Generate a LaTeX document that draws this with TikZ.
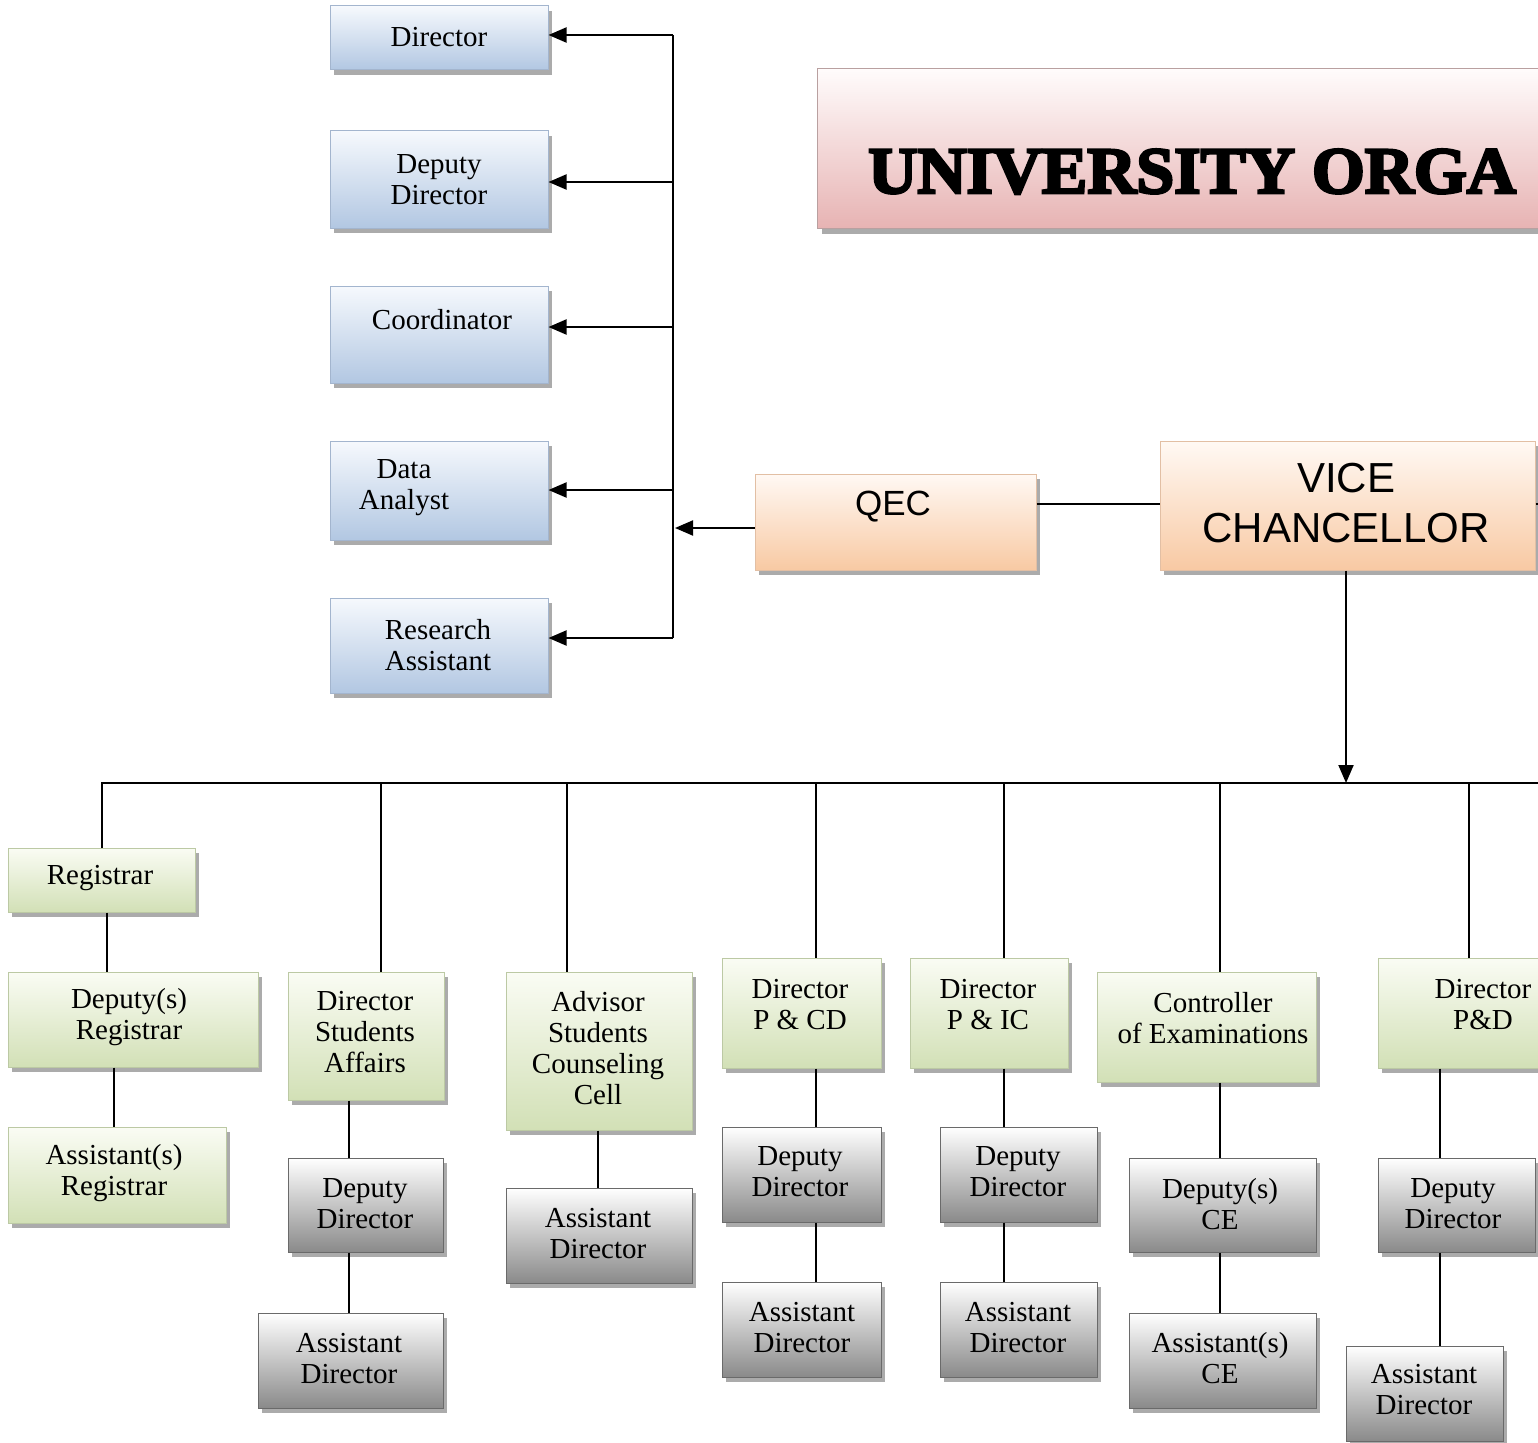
\documentclass[tikz,border=0pt]{standalone}
\usepackage{fontspec}
\setmainfont{Liberation Serif}
\newfontfamily\sansf{Liberation Sans}
\newfontfamily\titlefont{Liberation Serif}[BoldFeatures={FakeBold=4,FakeStretch=1.03}]
\usetikzlibrary{arrows.meta,shadows}
\definecolor{blueT}{HTML}{F6F9FD}
\definecolor{blueB}{HTML}{B2C7E2}
\definecolor{blueD}{HTML}{A3B5CE}
\definecolor{greenT}{HTML}{FAFCF4}
\definecolor{greenB}{HTML}{D2E0B6}
\definecolor{greenD}{HTML}{BCC9A4}
\definecolor{greyT}{HTML}{FFFFFF}
\definecolor{greyB}{HTML}{8A8A8A}
\definecolor{greyD}{HTML}{6A6A6A}
\definecolor{orT}{HTML}{FFF9F4}
\definecolor{orB}{HTML}{F8C9A3}
\definecolor{orD}{HTML}{E2BFA4}
\definecolor{pkT}{HTML}{FFFCFC}
\definecolor{pkB}{HTML}{E7B3B3}
\definecolor{pkD}{HTML}{B9A0A0}
\tikzset{
  base/.style={rectangle, inner sep=0pt, line width=1pt,
    drop shadow={shadow xshift=4pt, shadow yshift=-5pt, fill=black, opacity=0.33}},
  bluebox/.style={base, draw=blueD, top color=blueT, bottom color=blueB},
  greenbox/.style={base, draw=greenD, top color=greenT, bottom color=greenB},
  greybox/.style={base, draw=greyD, top color=greyT, bottom color=greyB},
  orbox/.style={base, draw=orD, top color=orT, bottom color=orB},
  pkbox/.style={base, draw=pkD, top color=pkT, bottom color=pkB},
  txt/.style={inner sep=0pt, align=center, font=\fontsize{29}{31}\selectfont},
  conn/.style={line width=2pt, draw=black},
  arr/.style={conn, -{Triangle[length=18pt,width=15pt]}},
}
\newcommand\obox[9]{%
  \node[#1, minimum width=#5pt, minimum height=#6pt] (#2) at (#3,#4) {};
  \node[txt] (#2t) at (#7,#8) {#9};}
\begin{document}
\begin{tikzpicture}[x=1pt,y=-1pt]
\useasboundingbox (0,0) rectangle (1538,1442);
\clip (0,0) rectangle (1538,1442);
\fill[white] (0,0) rectangle (1538,1442);

% title
\node[pkbox, minimum width=900pt, minimum height=160pt, anchor=north west] (title) at (817,68) {};
\node[anchor=base west, inner sep=0pt, font=\titlefont\bfseries\fontsize{66}{70}\selectfont] (titlet) at (868,193) {UNIVERSITY ORGA};

% blue column
\obox{bluebox}{b1}{439}{38}{218}{64}{439}{37}{Director}
\obox{bluebox}{b2}{439}{179.5}{218}{97}{439}{180}{Deputy\\Director}
\obox{bluebox}{b3}{439}{334.5}{218}{97}{442}{320}{Coordinator}
\obox{bluebox}{b4}{439}{490.5}{218}{99}{404}{488}{Data\\Analyst}
\obox{bluebox}{b5}{439}{645.5}{218}{95}{438}{645}{Research\\Assistant}

% QEC and VC
\node[orbox, minimum width=281pt, minimum height=96pt] (qec) at (895.5,522) {};
\node[inner sep=0pt, font=\sansf\fontsize{35}{40}\selectfont] (qect) at (893,507) {QEC};
\node[orbox, minimum width=375pt, minimum height=129pt] (vc) at (1347.5,505.5) {};
\node[inner sep=0pt, align=center, font=\sansf\fontsize{42}{50}\selectfont] (vct) at (1346,503) {VICE\\CHANCELLOR};

% left connectors
\coordinate (j1) at (673,35);
\coordinate (j2) at (673,182);
\coordinate (j3) at (673,327);
\coordinate (j4) at (673,490);
\coordinate (j5) at (673,638);
\draw[conn] (j1) -- (j5);
\draw[arr] (j1) -- (j1 -| b1.east);
\draw[arr] (j2) -- (j2 -| b2.east);
\draw[arr] (j3) -- (j3 -| b3.east);
\draw[arr] (j4) -- (j4 -| b4.east);
\draw[arr] (j5) -- (j5 -| b5.east);
\coordinate (qa) at (675,528);
\draw[arr] (qa -| qec.west) -- (qa);
\coordinate (qv) at (1100,504);
\draw[conn] (qv -| qec.east) -- (qv -| vc.west);
\draw[conn] (qv -| vc.east) -- ++(40,0);
\coordinate (busv) at (1346,783);
\draw[arr] (busv |- vc.south) -- (busv);

% green row
\obox{greenbox}{reg}{101.5}{880}{187}{64}{100}{878}{Registrar}
\obox{greenbox}{dreg}{133}{1019.5}{250}{95}{129}{1017}{Deputy(s)\\Registrar}
\obox{greenbox}{areg}{117}{1175}{218}{96}{114}{1173}{Assistant(s)\\Registrar}
\obox{greenbox}{dsa}{366}{1036}{156}{128}{365}{1032}{Director\\Students\\Affairs}
\obox{greenbox}{ascc}{599}{1051}{186}{158}{598}{1048}{Advisor\\Students\\Counseling\\Cell}
\obox{greenbox}{dpcd}{801.5}{1013}{159}{110}{800}{1005}{Director\\P \& CD}
\obox{greenbox}{dpic}{989}{1013}{158}{110}{988}{1005}{Director\\P \& IC}
\obox{greenbox}{coe}{1206.5}{1027}{219}{110}{1213}{1018}{Controller\\of Examinations}
\obox{greenbox}{dpd}{1483}{1013}{210}{110}{1483}{1005}{Director\\P\&D}

% grey boxes
\obox{greybox}{sadd}{365.5}{1205}{155}{94}{365}{1204}{Deputy\\Director}
\obox{greybox}{saad}{350.5}{1360.5}{185}{95}{349}{1359}{Assistant\\Director}
\obox{greybox}{asad}{599}{1235.5}{186}{95}{598}{1234}{Assistant\\Director}
\obox{greybox}{pcdd}{801.5}{1174.5}{159}{95}{800}{1172}{Deputy\\Director}
\obox{greybox}{pcad}{801.5}{1329.5}{159}{95}{802}{1328}{Assistant\\Director}
\obox{greybox}{picd}{1018.5}{1174.5}{157}{95}{1018}{1172}{Deputy\\Director}
\obox{greybox}{pica}{1018.5}{1329.5}{157}{95}{1018}{1328}{Assistant\\Director}
\obox{greybox}{ced}{1222.5}{1205}{187}{94}{1220}{1204}{Deputy(s)\\CE}
\obox{greybox}{cea}{1222.5}{1360.5}{187}{95}{1220}{1358}{Assistant(s)\\CE}
\obox{greybox}{pdd}{1456.5}{1205}{157}{94}{1453}{1204}{Deputy\\Director}
\obox{greybox}{pda}{1424.5}{1393.5}{157}{95}{1424}{1390}{Assistant\\Director}

% bus
\coordinate (busR) at (1560,783);
\draw[conn] (reg.north) -- (reg.north |- busR) -- (busR);
\coordinate (d2) at (381,783);
\coordinate (d3) at (567,783);
\coordinate (d4) at (816,783);
\coordinate (d5) at (1004,783);
\coordinate (d6) at (1220,783);
\coordinate (d7) at (1469,783);
\draw[conn] (d2) -- (d2 |- dsa.north);
\draw[conn] (d3) -- (d3 |- ascc.north);
\draw[conn] (d4) -- (d4 |- dpcd.north);
\draw[conn] (d5) -- (d5 |- dpic.north);
\draw[conn] (d6) -- (d6 |- coe.north);
\draw[conn] (d7) -- (d7 |- dpd.north);

% sub lines
\coordinate (x1) at (107,0);
\coordinate (x2) at (114,0);
\coordinate (x3) at (349,0);
\coordinate (x4) at (598,0);
\coordinate (x5) at (816,0);
\coordinate (x6) at (1004,0);
\coordinate (x7) at (1220,0);
\coordinate (x8) at (1440,0);
\draw[conn] (x1 |- reg.south) -- (x1 |- dreg.north);
\draw[conn] (x2 |- dreg.south) -- (x2 |- areg.north);
\draw[conn] (x3 |- dsa.south) -- (x3 |- sadd.north);
\draw[conn] (x3 |- sadd.south) -- (x3 |- saad.north);
\draw[conn] (x4 |- ascc.south) -- (x4 |- asad.north);
\draw[conn] (x5 |- dpcd.south) -- (x5 |- pcdd.north);
\draw[conn] (x5 |- pcdd.south) -- (x5 |- pcad.north);
\draw[conn] (x6 |- dpic.south) -- (x6 |- picd.north);
\draw[conn] (x6 |- picd.south) -- (x6 |- pica.north);
\draw[conn] (x7 |- coe.south) -- (x7 |- ced.north);
\draw[conn] (x7 |- ced.south) -- (x7 |- cea.north);
\draw[conn] (x8 |- dpd.south) -- (x8 |- pdd.north);
\draw[conn] (x8 |- pdd.south) -- (x8 |- pda.north);
\end{tikzpicture}
\end{document}
